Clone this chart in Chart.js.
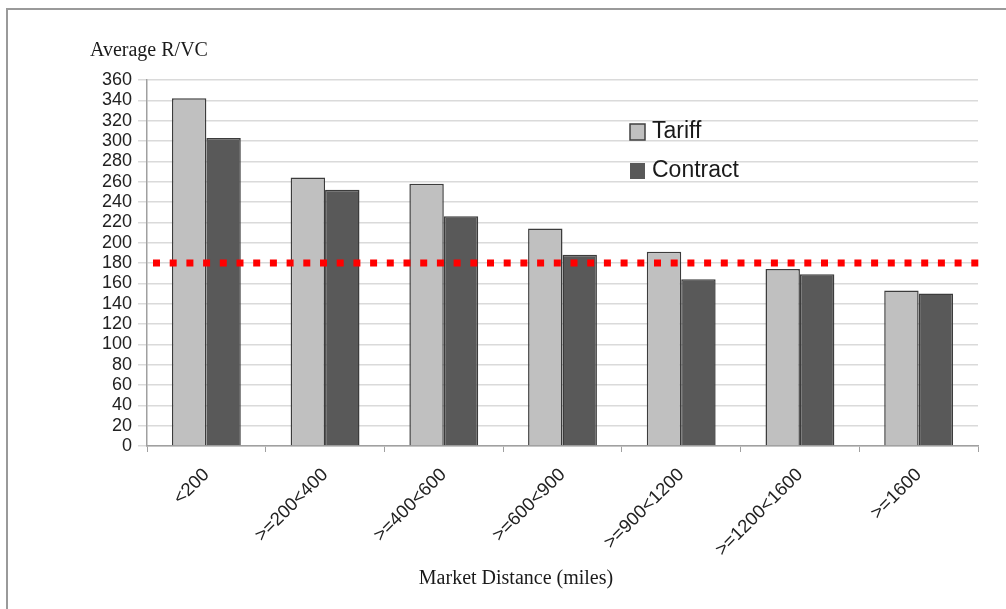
<!DOCTYPE html>
<html>
<head>
<meta charset="utf-8">
<script src="https://cdn.jsdelivr.net/npm/chart.js@4/dist/chart.umd.min.js"></script>
<style>
  html, body { margin: 0; padding: 0; background: #fff; overflow: hidden; }
  #wrap { position: relative; width: 1006px; height: 609px; }
  #frame { position: absolute; left: 6px; top: 8px; width: 1100px; height: 700px; border: 2px solid #9a9a9a; box-sizing: border-box; }
  canvas { position: absolute; left: 0; top: 0; }
</style>
</head>
<body>
<div id="wrap">
  <div id="frame"></div>
  <canvas id="rvcChart" width="1006" height="609"></canvas>
</div>
<script>
// categories and values
const distances = ['<200', '>=200<400', '>=400<600', '>=600<900', '>=900<1200', '>=1200<1600', '>=1600'];
const tariff = [342, 264, 258, 214, 191, 174, 153];
const contract = [303, 252, 226, 188, 164, 169, 150];
const threshold = 180;
const yTicks = [0, 20, 40, 60, 80, 100, 120, 140, 160, 180, 200, 220, 240, 260, 280, 300, 320, 340, 360];

// dotted red reference line + titles + legend
const extras = {
  id: 'extras',
  afterDatasetsDraw(chart) {
    const { ctx, chartArea, scales } = chart;
    const y = scales.y.getPixelForValue(threshold);
    ctx.save();
    ctx.strokeStyle = '#ff0000';
    ctx.lineWidth = 7;
    ctx.setLineDash([7, 9.7]);
    ctx.beginPath();
    ctx.moveTo(chartArea.left + 6, y);
    ctx.lineTo(chartArea.right + 6, y);
    ctx.stroke();
    ctx.restore();
  },
  afterDraw(chart) {
    const ctx = chart.ctx;
    ctx.save();
    ctx.fillStyle = '#1a1a1a';
    ctx.font = '20px "Liberation Serif", serif';
    ctx.textBaseline = 'alphabetic';
    ctx.textAlign = 'left';
    ctx.fillText('Average R/VC', 90, 56);
    ctx.textAlign = 'center';
    ctx.fillText('Market Distance (miles)', 516, 584);

    // legend
    ctx.font = '23px "Liberation Sans", sans-serif';
    ctx.textAlign = 'left';
    ctx.textBaseline = 'middle';
    chart.data.datasets.forEach((ds, i) => {
      const ly = 132 + i * 39;
      ctx.fillStyle = ds.backgroundColor;
      ctx.fillRect(630, ly - 8, 15, 16);
      if (i === 0) {
        ctx.strokeStyle = '#404040';
        ctx.lineWidth = 1.5;
        ctx.strokeRect(630, ly - 8, 15, 16);
      }
      ctx.fillStyle = '#1a1a1a';
      ctx.fillText(ds.label, 652, ly);
    });
    ctx.restore();
  }
};

new Chart(document.getElementById('rvcChart'), {
  type: 'bar',
  data: {
    labels: distances,
    datasets: [
      {
        label: 'Tariff',
        data: tariff,
        backgroundColor: '#c0c0c0',
        borderColor: '#3c3c3c',
        borderWidth: 1.5,
        categoryPercentage: 0.58,
        barPercentage: 1.0
      },
      {
        label: 'Contract',
        data: contract,
        backgroundColor: '#595959',
        borderColor: '#3c3c3c',
        borderWidth: 1.5,
        categoryPercentage: 0.58,
        barPercentage: 1.0
      }
    ]
  },
  options: {
    responsive: false,
    animation: false,
    layout: { padding: { top: 80, right: 28, left: 0, bottom: 0 } },
    plugins: {
      legend: { display: false },
      tooltip: { enabled: false }
    },
    scales: {
      x: {
        offset: true,
        grid: { display: true, offset: true, drawOnChartArea: false, color: '#a0a0a0', tickLength: 6 },
        border: { color: '#a0a0a0', width: 1.5 },
        ticks: {
          minRotation: 45,
          maxRotation: 45,
          color: '#222',
          font: { family: 'Liberation Sans', size: 18.5 },
          padding: 12
        },
        afterFit(scale) { scale.height = 163; }
      },
      y: {
        min: 0,
        max: 360,
        afterBuildTicks(scale) { scale.ticks = yTicks.map(v => ({ value: v })); },
        grid: { color: '#dadada', lineWidth: 1.5, tickLength: 9 },
        border: { color: '#a0a0a0', width: 1.5 },
        ticks: {
          autoSkip: false,
          color: '#222',
          font: { family: 'Liberation Sans', size: 18 },
          padding: 6
        },
        afterFit(scale) { scale.width = 147; }
      }
    }
  },
  plugins: [extras]
});
</script>
</body>
</html>
